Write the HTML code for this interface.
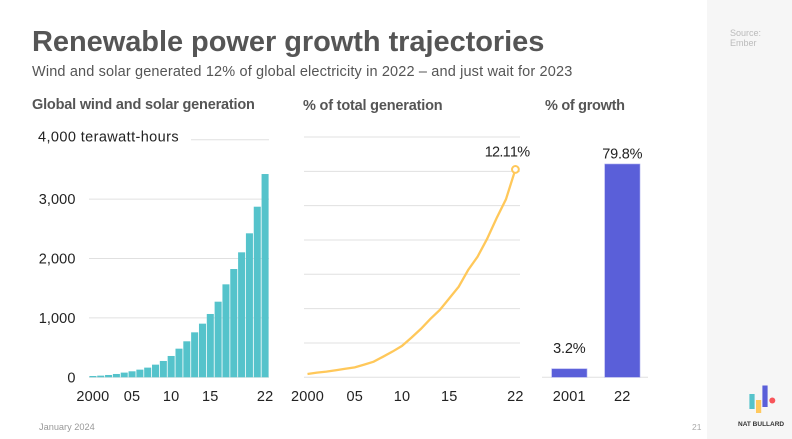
<!DOCTYPE html>
<html>
<head>
<meta charset="utf-8">
<style>
html,body{margin:0;padding:0;background:#fff;}
#slide{position:relative;width:792px;height:439px;overflow:hidden;background:#fff;font-family:"Liberation Sans",sans-serif;filter:blur(.3px);}
.t{position:absolute;white-space:nowrap;}
#sidebar{position:absolute;left:707px;top:0;width:85px;height:439px;background:#f6f6f6;}
svg{position:absolute;left:0;top:0;}
svg text{font-family:"Liberation Sans",sans-serif;font-size:14.5px;fill:#222;letter-spacing:.2px;}
</style>
</head>
<body>
<div id="slide">
<div id="sidebar"></div>
<div class="t" style="left:32px;top:24px;font-size:29px;font-weight:bold;color:#555;line-height:36px;letter-spacing:-.05px;">Renewable power growth trajectories</div>
<div class="t" style="left:32px;top:63px;font-size:14.5px;color:#555;line-height:18px;letter-spacing:.15px;">Wind and solar generated 12% of global electricity in 2022 – and just wait for 2023</div>
<div class="t" style="left:32px;top:95.5px;font-size:14.5px;font-weight:bold;color:#555;line-height:18px;letter-spacing:-.19px;">Global wind and solar generation</div>
<div class="t" style="left:303px;top:97px;font-size:14.5px;font-weight:bold;color:#555;line-height:18px;letter-spacing:-.19px;">% of total generation</div>
<div class="t" style="left:545px;top:97px;font-size:14.5px;font-weight:bold;color:#555;line-height:18px;letter-spacing:-.3px;">% of growth</div>
<div class="t" style="left:730px;top:29px;font-size:9px;color:#bbb;line-height:9.5px;">Source:<br>Ember</div>
<div class="t" style="left:39px;top:420.5px;font-size:9.2px;color:#999;line-height:12px;">January 2024</div>
<div class="t" style="left:692px;top:421px;font-size:8.5px;color:#aaa;line-height:12px;">21</div>
<div class="t" style="left:738px;top:420px;font-size:6.5px;font-weight:bold;color:#333;line-height:10px;">NAT BULLARD</div>
<svg id="chart" width="792" height="439" viewBox="0 0 792 439"></svg>
</div>
<script>
var genYears = [2000,2001,2002,2003,2004,2005,2006,2007,2008,2009,2010,2011,2012,2013,2014,2015,2016,2017,2018,2019,2020,2021,2022];
var genValues = [22,28,39,56,79,101,129,163,213,275,359,482,606,757,903,1066,1273,1565,1823,2104,2424,2872,3422];
var genTicks = [0,1000,2000,3000,4000];
var genTickLabels = ["0","1,000","2,000","3,000","4,000 terawatt-hours"];
var yearTickYears = [2000,2005,2010,2015,2022];
var yearTickLabels = ["2000","05","10","15","22"];
var shareValues = [0.19,0.27,0.33,0.41,0.50,0.58,0.74,0.91,1.2,1.5,1.83,2.31,2.82,3.4,3.92,4.6,5.28,6.25,7.03,8.06,9.26,10.37,12.11];
var shareTicks = [0,2,4,6,8,10,12,14];
var shareLastLabel = "12.11%";
var growthCategories = ["2001","22"];
var growthValues = [3.2,79.8];
var growthLabels = ["3.2%","79.8%"];

var svg = document.getElementById('chart');
var NS = 'http://www.w3.org/2000/svg';
function mk(tag){ var e = document.createElementNS(NS, tag); svg.appendChild(e); return e; }
function line(x1,y1,x2,y2,c,w){
  var e = mk('line');
  e.setAttribute('x1',x1); e.setAttribute('y1',y1); e.setAttribute('x2',x2); e.setAttribute('y2',y2);
  e.setAttribute('stroke',c); e.setAttribute('stroke-width',w);
  return e;
}
function rect(x,y,w,h,f){
  var e = mk('rect');
  e.setAttribute('x',x); e.setAttribute('y',y); e.setAttribute('width',w); e.setAttribute('height',h);
  e.setAttribute('fill',f);
  return e;
}
function text(x,y,s,anchor){
  var e = mk('text');
  e.setAttribute('x',x); e.setAttribute('y',y); e.setAttribute('text-anchor',anchor);
  e.textContent = s;
  return e;
}
var BASE = 377.3;
var GRID = '#e0e0e0';

/* Panel 1: generation bars */
function genY(v){ return BASE - v * 0.0594; }
var genStep = 180 / genYears.length;
function genX(year){ return 89 + (year - genYears[0]) * genStep; }
genTicks.forEach(function(t,i){
  var isTop = i === genTicks.length - 1;
  var g = line(isTop ? 191 : 89, genY(t), 269, genY(t), GRID, 1);
  
  
  var lab = text(isTop ? 38 : 75.5, genY(t) + (isTop ? 2 : 5), genTickLabels[i], isTop ? 'start' : 'end');
  lab.style.letterSpacing = isTop ? '.4px' : '.1px';
  
  
});
genValues.forEach(function(v,i){
  var b = rect(genX(genYears[i]) + 0.4, genY(v), genStep - 0.8, BASE - genY(v), '#55c3cb');
  
  
});
yearTickYears.forEach(function(y,i){
  var lab = text(genX(y) + genStep / 2, 400.8, yearTickLabels[i], 'middle');
  
  
});

/* Panel 2: share line */
function shareY(v){ return BASE - v * 17.165; }
function shareX(year){ return 307.5 + (year - genYears[0]) * 9.45; }
shareTicks.forEach(function(t){
  var g = line(304, shareY(t), 520, shareY(t), GRID, 1);
  
  
});
var pts = shareValues.map(function(v,i){ return shareX(genYears[i]) + ',' + shareY(v); }).join(' ');
var pl = mk('polyline');
pl.setAttribute('points', pts);
pl.setAttribute('fill', 'none');
pl.setAttribute('stroke', '#ffc85a');
pl.setAttribute('stroke-width', '2.3');


var lastI = shareValues.length - 1;
var dot = mk('circle');
dot.setAttribute('cx', shareX(genYears[lastI]));
dot.setAttribute('cy', shareY(shareValues[lastI]));
dot.setAttribute('r', '3.4');
dot.setAttribute('fill', '#fff');
dot.setAttribute('stroke', '#ffc85a');
dot.setAttribute('stroke-width', '2');


var endLab = text(shareX(genYears[lastI]) + 14, shareY(shareValues[lastI]) - 13, shareLastLabel, 'end');
endLab.style.fontKerning = 'none';
endLab.style.letterSpacing = '-.75px';


yearTickYears.forEach(function(y,i){
  var lab = text(shareX(y), 400.8, yearTickLabels[i], 'middle');
  
  
});

/* Panel 3: growth bars */
function growthY(v){ return BASE - v * 2.673; }
function growthX(i){ return 551.7 + i * 53; }
var base3 = line(542, BASE, 648, BASE, GRID, 1);


growthValues.forEach(function(v,i){
  var b = rect(growthX(i), growthY(v), 35.3, BASE - growthY(v), '#5a5fd9');
  b.setAttribute('stroke', '#a9abee');
  b.setAttribute('stroke-width', '0.6');
  
  
  var val = text(growthX(i) + 17.6, growthY(v) - 5.5 - (i === 0 ? 10 : 0), growthLabels[i], 'middle');
  val.style.letterSpacing = '-.2px';
  
  
  var cat = text(growthX(i) + 17.6, 400.8, growthCategories[i], 'middle');
  
  
});

/* Logo */
var l1 = rect(749.4,394,5.2,15,'#55c3cb');


var l2 = rect(756,400,5.2,13,'#ffc95e');


var l3 = rect(762.4,385.5,5.2,21.5,'#5a5fd9');


var l4 = mk('circle');
l4.setAttribute('cx','772.3'); l4.setAttribute('cy','400.5'); l4.setAttribute('r','3'); l4.setAttribute('fill','#f8555a');


</script>
</body>
</html>
